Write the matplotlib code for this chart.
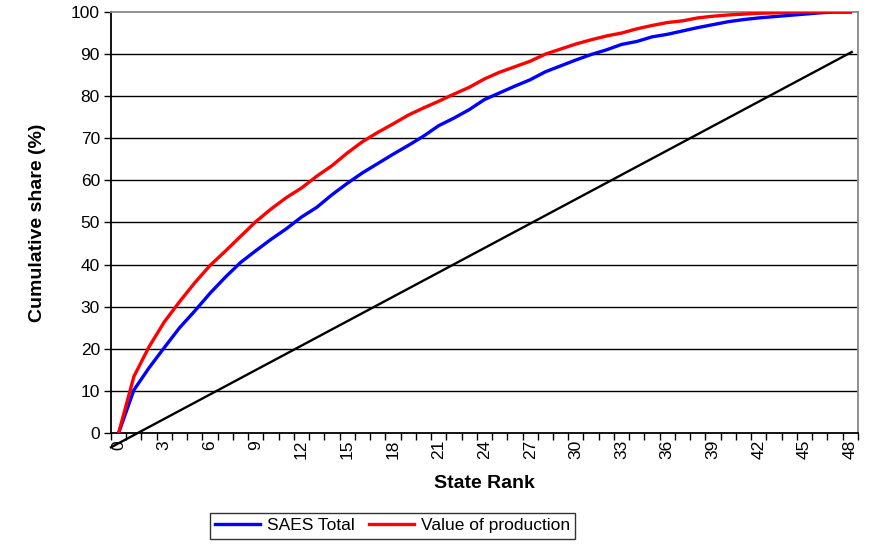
import matplotlib

matplotlib.use("Agg")
import matplotlib.pyplot as plt
import numpy as np

plt.rcParams["font.family"] = ["Liberation Sans", "DejaVu Sans"]

# state rank categories 0..48
ranks = list(range(49))
saes_total = [
    0, 10.2, 15.5, 20.3, 25.0, 29.0, 33.2, 37.0, 40.5, 43.3,
    46.0, 48.5, 51.3, 53.6, 56.6, 59.3, 61.8, 64.0, 66.2, 68.3,
    70.5, 73.0, 74.8, 76.8, 79.2, 80.8, 82.4, 83.9, 85.8, 87.2,
    88.6, 89.9, 91.0, 92.3, 93.0, 94.1, 94.7, 95.5, 96.3, 97.0,
    97.7, 98.2, 98.6, 98.9, 99.2, 99.5, 99.8, 100, 100,
]
value_production = [
    0, 13.4, 20.5, 26.4, 31.2, 35.7, 39.8, 43.2, 46.7, 50.2,
    53.2, 55.9, 58.2, 61.0, 63.5, 66.5, 69.2, 71.4, 73.4, 75.5,
    77.2, 78.8, 80.5, 82.1, 84.1, 85.7, 87.0, 88.3, 90.0, 91.2,
    92.4, 93.4, 94.3, 95.0, 96.0, 96.8, 97.5, 97.9, 98.6, 99.0,
    99.3, 99.5, 99.7, 99.8, 99.9, 100, 100, 100, 100,
]
# hand-drawn reference line (endpoints)
ref_x = [-0.5, 48.1]
ref_y = [-3.4, 90.5]

x_ticks = list(range(0, 49, 3))
y_ticks = list(range(0, 101, 10))

fig = plt.figure(figsize=(8.7, 5.46), dpi=100)
ax = fig.add_axes([0.1276, 0.207, 0.8584, 0.771])

for y in y_ticks[1:-1]:
    ax.axhline(y, color="black", linewidth=1.0, zorder=1)

ax.plot(ref_x, ref_y, color="black", linewidth=1.7, clip_on=False, zorder=3)
ax.plot(ranks, saes_total, color="#0000FF", linewidth=2.4, label="SAES Total", zorder=4)
ax.plot(ranks, value_production, color="#FF0000", linewidth=2.4, label="Value of production", zorder=5)

ax.set_xlim(-0.5, 48.5)
ax.set_ylim(0, 100)
ax.set_yticks(y_ticks)
ax.set_xticks(x_ticks)
ax.set_xticks(np.arange(-0.5, 49, 1.0), minor=True)
ax.tick_params(axis="x", which="major", length=0, labelsize=12.5, labelrotation=90, pad=5)
ax.tick_params(axis="x", which="minor", length=5, width=1, direction="out", color="black")
ax.tick_params(axis="y", which="major", length=5, width=1, direction="out", labelsize=12.5, pad=3)

for side in ("left", "bottom"):
    ax.spines[side].set_color("black")
    ax.spines[side].set_linewidth(1.3)
for side in ("top", "right"):
    ax.spines[side].set_color("#888888")
    ax.spines[side].set_linewidth(1.3)

ax.set_xlabel("State Rank", fontsize=14, fontweight="bold", labelpad=11)
ax.set_ylabel("Cumulative share (%)", fontsize=14, fontweight="bold", labelpad=18)

leg = fig.legend(
    loc="center",
    bbox_to_anchor=(0.451, 0.037),
    ncol=2,
    fontsize=12.5,
    frameon=True,
    fancybox=False,
    edgecolor="black",
    handlelength=2.6,
    columnspacing=0.8,
    handletextpad=0.4,
    borderpad=0.3,
)
leg.get_frame().set_linewidth(1.0)

fig.savefig("out.png", dpi=100)
